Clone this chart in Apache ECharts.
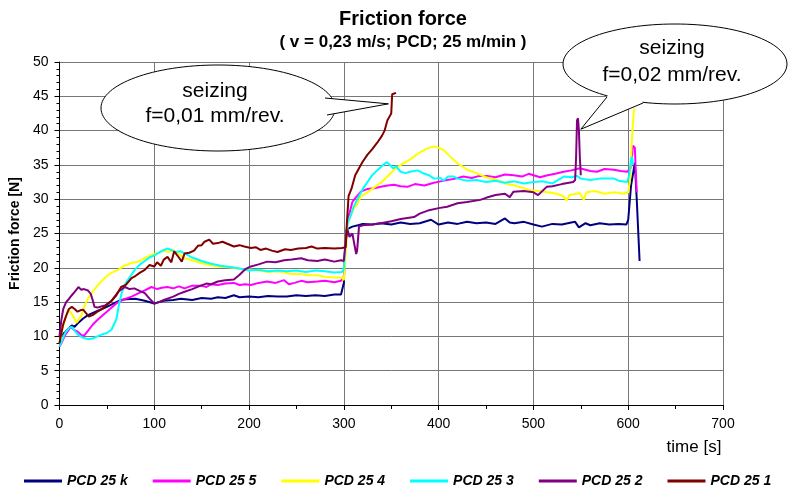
<!DOCTYPE html>
<html>
<head>
<meta charset="utf-8">
<title>Friction force</title>
<script src="https://cdn.jsdelivr.net/npm/echarts@6/dist/echarts.min.js"></script>
<style>
  html, body { margin: 0; padding: 0; background: #fff; }
  #chart { width: 789px; height: 487px; }
</style>
</head>
<body>
<div id="chart"></div>
<script>
  // [time s, force N]
  var pcdK = [[0,9.8],[3,10.3],[6,10.6],[10,11.2],[13,11.6],[16,11.4],[20,12],[25,12.6],[30,13.1],[40,13.7],[50,14.3],[60,15],[65,15.3],[70,15.4],[80,15.5],[90,15.2],[100,14.8],[105,15],[110,15.2],[120,15.3],[128,15.5],[140,15.3],[150,15.6],[160,15.5],[167,15.7],[175,15.6],[184,16],[190,15.7],[200,15.8],[210,15.7],[220,15.9],[230,15.8],[240,15.8],[250,16],[260,15.9],[270,16],[280,15.9],[290,16.1],[297,16.1],[300,17.8],[301,22],[303,25.6],[309,26],[315,26.2],[320,26.4],[330,26.3],[339,26.5],[350,26.3],[360,26.6],[370,26.4],[380,26.5],[392,27],[400,26.3],[410,26.6],[420,26.4],[430,26.7],[440,26.5],[450,26.6],[460,26.4],[470,27.2],[475,26.6],[480,26.5],[490,26.7],[500,26.3],[509,26],[520,26.4],[530,26.3],[540,26.6],[544,26.7],[548,25.9],[555,26.5],[560,26.2],[570,26.5],[580,26.3],[590,26.4],[598,26.3],[600,27],[603,32],[607,35.3],[609,30],[612,21]];

  var pcd5 = [[0,8.5],[3,9.3],[6,10.2],[9,10.8],[12,11.4],[15,11],[19,10.7],[23,10.2],[26,10.1],[30,10.8],[35,11.7],[40,12.4],[45,13],[50,13.6],[55,14.2],[60,14.8],[65,15.2],[70,15.5],[76,15.8],[82,16.2],[90,16.7],[97,17.2],[103,16.9],[108,17.1],[114,17.2],[120,17],[126,17.3],[132,17],[140,17.4],[149,17.4],[155,17.2],[160,17.6],[167,17.5],[175,17.7],[184,17.8],[190,17.5],[196,17.6],[202,17.5],[210,17.8],[219,18],[228,17.8],[237,18.2],[242,17.6],[248,17.8],[255,18.1],[262,17.9],[272,18],[280,18.1],[290,17.9],[297,18.1],[300,18.7],[302,24],[304,27],[306,28],[309,29.6],[313,30.3],[318,31.1],[325,31.5],[332,31.6],[339,31.8],[346,32],[353,32.1],[360,31.9],[367,31.8],[375,32.2],[385,32],[395,32.4],[402,32.6],[409,32.8],[418,33],[426,33.3],[435,33.1],[443,33.4],[451,33.4],[460,33.2],[470,33.6],[479,33.5],[488,33.3],[495,33.7],[507,33.2],[515,33.5],[523,33.7],[532,34],[540,34.2],[549,34.5],[555,34.3],[560,34.1],[567,34],[575,34.4],[585,34.3],[592,34.1],[599,34],[603,34.6],[605,37.8],[607,37.5],[608,34],[609,31]];

  var pcd4 = [[0,9],[3,11],[6,12.5],[9,13.8],[12,13.5],[15,12.8],[18,12],[20,11.8],[23,13],[26,14.3],[30,15.5],[35,16.5],[40,17.4],[44,18],[50,18.8],[55,19.3],[62,19.7],[68,20.3],[76,20.7],[83,20.9],[90,21.4],[97,21.9],[105,22.2],[110,22.5],[115,22.3],[120,22.6],[125,22.1],[132,21.4],[140,21.1],[149,20.7],[158,20.4],[167,20.2],[175,20.1],[184,20],[192,19.8],[202,19.7],[210,19.6],[220,19.4],[228,19.5],[237,19.3],[245,19.1],[255,19.1],[262,18.9],[272,18.9],[280,18.7],[290,18.6],[298,18.6],[300,18.2],[302,22],[304,26.5],[307,27.5],[310,28.5],[315,29.5],[318,30.4],[325,31],[330,31.5],[340,32.5],[346,33.3],[353,34.3],[360,35],[370,35.8],[380,36.8],[388,37.4],[395,37.7],[400,37.5],[405,37.2],[410,36.5],[416,35.7],[420,35.2],[425,34.8],[430,34.3],[440,33.8],[450,33.2],[462,32.8],[470,32.3],[480,32],[490,31.6],[497,31.3],[505,31.2],[515,31],[525,30.8],[532,30.4],[535,29.8],[538,30.6],[545,30.8],[549,30.9],[553,29.9],[556,31],[565,31.2],[575,30.8],[585,31],[595,30.8],[600,31],[602,33],[604,39],[606,43],[607,43.2]];

  var pcd3 = [[0,8.5],[3,9.5],[6,10.5],[10,11.2],[13,11.4],[16,10.8],[20,10.2],[25,9.8],[30,9.6],[35,9.7],[40,10],[45,10.3],[50,10.5],[55,11],[60,12.5],[63,14.8],[66,16.5],[70,17.8],[75,18.8],[80,19.8],[85,20.5],[90,21],[95,21.5],[100,21.8],[105,22.2],[110,22.6],[114,22.8],[118,22.6],[122,22.3],[128,22.4],[135,21.9],[140,21.5],[150,21],[160,20.6],[170,20.3],[180,20.1],[190,19.9],[200,19.6],[210,19.7],[220,19.5],[230,19.6],[240,19.5],[250,19.6],[260,19.4],[270,19.6],[280,19.5],[290,19.3],[298,19.4],[300,19.8],[302,24],[304,26.5],[307,27.5],[310,28.8],[315,30.2],[320,31.5],[325,32.5],[330,33.5],[335,34.2],[340,34.8],[345,35.4],[348,35.1],[352,34.5],[355,34.8],[360,34],[365,33.8],[370,34],[378,34.2],[385,33.7],[390,33.5],[395,33],[402,33.1],[405,32.7],[410,33.3],[416,33.3],[420,33],[430,32.7],[440,32.8],[450,32.5],[460,32.7],[470,32.4],[480,32.6],[490,32.3],[500,32.5],[510,32.6],[520,32.3],[532,33.3],[540,33.2],[546,33.4],[550,33],[560,32.8],[570,33],[585,33],[590,32.7],[599,32.5],[601,33.5],[603,35.8],[604,36.2],[605,35]];

  var pcd2 = [[0,10],[2,12.4],[4,14],[7,15],[9,15.3],[13,16],[16,16.5],[20,17.2],[23,16.8],[26,16.9],[30,16.7],[33,16.2],[35,15.3],[37,14.3],[40,14.2],[45,14.4],[48,14.5],[55,15.2],[62,16.5],[69,17.2],[74,16.9],[79,17],[85,16.6],[90,16.3],[95,15.5],[100,14.8],[105,15],[110,15.3],[114,15.5],[120,15.8],[126,16.2],[132,16.5],[140,16.9],[149,17.4],[155,17.7],[160,17.6],[167,18],[175,18.2],[184,18.3],[190,19],[196,19.8],[202,20.2],[210,20.5],[219,20.9],[228,20.8],[237,21.1],[245,21.2],[255,21.4],[262,21.1],[272,21],[280,21.2],[290,20.9],[297,21.1],[300,21],[302,24],[304,25.5],[306,24.5],[309,25],[311,23.5],[313,22],[314,22.5],[316,26],[320,26.2],[330,26.3],[339,26.5],[350,26.8],[360,27.1],[374,27.4],[380,27.9],[390,28.4],[400,28.7],[409,28.9],[420,29.4],[430,29.6],[444,29.9],[450,30.2],[460,30.6],[470,30.8],[475,30.3],[479,31.1],[490,31.2],[500,31],[505,30.6],[514,31.8],[520,31.9],[530,32.2],[542,32.5],[544,32.8],[545,36],[546,41.5],[547,41.8],[548,40],[549,36],[550,33.5]];

  var pcd1 = [[0,9],[2,10.5],[4,11.8],[7,13],[10,14],[13,14.3],[16,14],[19,13.6],[22,13.8],[25,13.9],[28,13.4],[31,12.9],[35,13.1],[40,13.6],[45,14],[50,14.6],[55,15.2],[60,16],[65,17.2],[70,17.5],[76,18.5],[80,18.8],[85,19.3],[90,19.7],[95,20.4],[100,20.2],[103,20.8],[107,20.3],[110,21.2],[114,21.6],[118,20.8],[121,22.4],[123,22.6],[126,21.5],[129,20.9],[132,22.1],[137,22.2],[142,22.5],[146,23.2],[150,23.3],[153,23.8],[158,24.1],[162,23.5],[167,23.6],[172,23.8],[177,23.5],[184,23.1],[190,23.3],[195,23.1],[202,22.9],[207,23],[212,22.6],[218,22.8],[224,22.5],[230,22.3],[238,22.7],[244,22.6],[252,22.8],[260,22.9],[266,23.1],[272,22.8],[280,22.9],[290,22.8],[298,22.9],[300,23],[302,23],[303,26],[305,30.5],[308,31.5],[312,33.5],[316,34.5],[320,35.5],[325,36.5],[330,37.3],[335,38.2],[340,39.2],[343,40],[346,41.5],[348,42],[350,42.5],[351,45.3],[353,45.5],[355,45.5]];

  var seriesNames = ['PCD 25 k', 'PCD 25 5', 'PCD 25 4', 'PCD 25 3', 'PCD 25 2', 'PCD 25 1'];
  var seriesData = [pcdK, pcd5, pcd4, pcd3, pcd2, pcd1];
  var colors = ['#000080', '#ff00ff', '#ffff00', '#00ffff', '#800080', '#800000'];

  var font = "'Liberation Sans', Arial, sans-serif";

  var myChart = echarts.init(document.getElementById('chart'));

  var series = seriesNames.map(function (name, i) {
    return {
      name: name,
      type: 'line',
      data: seriesData[i],
      showSymbol: false,
      symbol: 'none',
      lineStyle: { width: 2, color: colors[i] },
      itemStyle: { color: colors[i] }
    };
  });

  var option = {
    animation: false,
    color: colors,
    title: [{
      text: 'Friction force',
      left: 398,
      textAlign: 'center',
      top: 4,
      textStyle: { fontFamily: font, fontSize: 20, fontWeight: 'bold', color: '#000' }
    }, {
      text: '( v = 0,23 m/s; PCD; 25 m/min )',
      left: 398,
      textAlign: 'center',
      top: 29,
      textStyle: { fontFamily: font, fontSize: 17, fontWeight: 'bold', color: '#000' }
    }],
    grid: { left: 58, right: 66, top: 62, bottom: 82, containLabel: false },
    legend: {
      data: seriesNames,
      left: 19,
      top: 469,
      icon: 'rect',
      itemWidth: 38,
      itemHeight: 3,
      itemGap: 25,
      textStyle: { fontFamily: font, fontSize: 14, fontWeight: 'bold', fontStyle: 'italic', color: '#000' }
    },
    xAxis: {
      type: 'value',
      min: 0,
      max: 700,
      interval: 100,
      name: 'time [s]',
      nameLocation: 'end',
      nameGap: -29,
      nameTextStyle: { fontFamily: font, fontSize: 17, color: '#000', align: 'center', verticalAlign: 'top', padding: [34, 0, 0, 0] },
      axisLine: { lineStyle: { color: '#000', width: 1 } },
      axisTick: { show: true, length: 5, lineStyle: { color: '#000' } },
      minorTick: { show: true, splitNumber: 2, length: 4, lineStyle: { color: '#000' } },
      axisLabel: { fontFamily: font, fontSize: 14, color: '#000', margin: 12 },
      splitLine: { show: true, lineStyle: { color: '#777', width: 1 } }
    },
    yAxis: {
      type: 'value',
      min: 0,
      max: 50,
      interval: 5,
      name: 'Friction force [N]',
      nameLocation: 'middle',
      nameGap: 27,
      nameTextStyle: { fontFamily: font, fontSize: 14, fontWeight: 'bold', color: '#000' },
      axisLine: { show: true, lineStyle: { color: '#000', width: 1 } },
      axisTick: { show: true, length: 5, lineStyle: { color: '#000' } },
      minorTick: { show: true, splitNumber: 5, length: 3, lineStyle: { color: '#000' } },
      axisLabel: { fontFamily: font, fontSize: 14, color: '#000', margin: 11 },
      splitLine: { show: true, lineStyle: { color: '#777', width: 1 } }
    },
    series: series
  };

  myChart.setOption(option);

  // callout bubbles pointing at the seizing points
  function callout(cx, cy, rx, ry, b1, b2, tipData, line1, line2, y1, y2) {
    var tip = myChart.convertToPixel({ gridIndex: 0 }, tipData);
    return [{
      type: 'ellipse',
      shape: { cx: cx, cy: cy, rx: rx, ry: ry },
      style: { fill: '#fff', stroke: '#000', lineWidth: 1 },
      z: 100
    }, {
      type: 'polygon',
      shape: { points: [b1, tip, b2, [cx + (b1[0] - cx) * 0.8, cy]] },
      style: { fill: '#fff', stroke: null },
      z: 101
    }, {
      type: 'polyline',
      shape: { points: [b1, tip, b2] },
      style: { stroke: '#000', lineWidth: 1, fill: null },
      z: 102
    }, {
      type: 'text',
      x: cx - 3, y: y1, z: 103,
      style: { text: line1, font: '21px ' + font, fill: '#000', align: 'center', verticalAlign: 'middle' }
    }, {
      type: 'text',
      x: cx - 3, y: y2, z: 103,
      style: { text: line2, font: '21px ' + font, fill: '#000', align: 'center', verticalAlign: 'middle' }
    }];
  }

  var bubbles = callout(218, 108, 117, 43, [325, 98], [327, 115], [347, 43.9],
    'seizing', 'f=0,01 mm/rev.', 91, 116)
    .concat(callout(675, 64, 112, 40, [607, 97], [643, 103], [550, 40.2],
    'seizing', 'f=0,02 mm/rev.', 48, 75));

  myChart.setOption({ graphic: bubbles });
</script>
</body>
</html>
